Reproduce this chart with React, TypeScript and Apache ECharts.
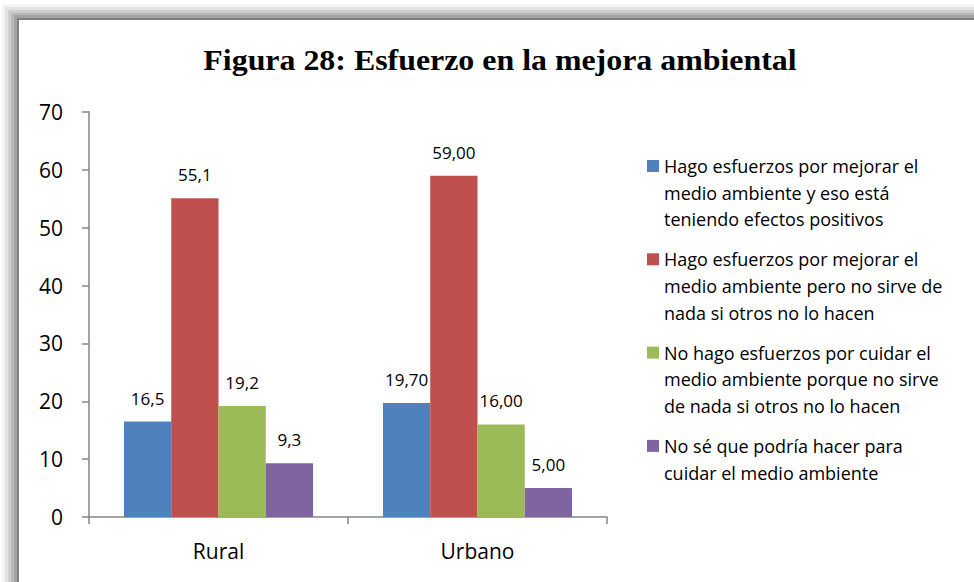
import React, { useEffect, useRef } from "react";
import * as echarts from "echarts";

const titleText = "Figura 28: Esfuerzo en la mejora ambiental";
const categories = ["Rural", "Urbano"];
const labelDecimals = [1, 2];
const seriesNames = [
  "Hago esfuerzos por mejorar el\nmedio ambiente y eso está\nteniendo efectos positivos",
  "Hago esfuerzos por mejorar el\nmedio ambiente pero no sirve de\nnada si otros no lo hacen",
  "No hago esfuerzos por cuidar el\nmedio ambiente porque no sirve\nde nada si otros no lo hacen",
  "No sé que podría hacer para\ncuidar el medio ambiente",
];
const seriesColors = ["#4F81BD", "#C0504D", "#9BBB59", "#8064A2"];
const valuesPositive = [16.5, 19.7];
const valuesNoSirve = [55.1, 59.0];
const valuesNoHago = [19.2, 16.0];
const valuesNoSe = [9.3, 5.0];
const seriesValues = [valuesPositive, valuesNoSirve, valuesNoHago, valuesNoSe];
const yMin = 0;
const yMax = 70;
const yInterval = 10;

const FONT = "'Open Sans', 'Noto Sans', sans-serif";

export default function App() {
  const ref = useRef<HTMLDivElement>(null);
  useEffect(() => {
    if (!ref.current) return;
    const chart = echarts.init(ref.current, undefined, { renderer: "svg" });

    const frame: any[] = [
      { x: 2, y: 4, fill: "#f3f3f3" },
      { x: 5, y: 7, fill: "#e2e2e2" },
      { x: 8, y: 10, fill: "#cfcfcf" },
      { x: 11, y: 13, fill: "#b9b9b9" },
      { x: 14, y: 15, fill: "#a3a3a3" },
      { x: 17, y: 18, fill: "#7f7f7f" },
      { x: 19, y: 20, fill: "#ffffff" },
    ].map((f) => ({
      type: "rect",
      silent: true,
      z: -10,
      shape: { x: f.x, y: f.y, width: 1200, height: 800 },
      style: { fill: f.fill },
    }));

    const legendItems: any[] = [];
    seriesNames.forEach((name, i) => {
      const cy = 166 + i * 93.3;
      legendItems.push({
        type: "rect",
        shape: { x: 647, y: cy - 6, width: 12, height: 12 },
        style: { fill: seriesColors[i] },
      });
      legendItems.push({
        type: "text",
        x: 664,
        y: cy - 13.3,
        style: {
          text: name,
          font: `18px ${FONT}`,
          fill: "#000000",
          lineHeight: 26.7,
          verticalAlign: "top",
          align: "left",
        },
      });
    });

    const titleItem = {
      type: "text",
      x: 500,
      y: 60,
      scaleX: 1.1,
      style: {
        text: titleText,
        font: "bold 29px 'Liberation Serif', 'Times New Roman', serif",
        fill: "#000000",
        align: "center",
        verticalAlign: "middle",
      },
    };

    chart.setOption({
      animation: false,
      backgroundColor: "#ffffff",
      graphic: [...frame, titleItem, ...legendItems],
      grid: { left: 89, right: 367, top: 112, bottom: 65, containLabel: false },
      xAxis: {
        type: "category",
        data: categories,
        axisLine: { show: true, lineStyle: { color: "#868686", width: 1.5 } },
        axisTick: { show: true, length: 7, lineStyle: { color: "#868686", width: 1.5 } },
        axisLabel: { fontFamily: FONT, fontSize: 21, color: "#000000", margin: 23 },
        splitLine: { show: false },
      },
      yAxis: {
        type: "value",
        min: yMin,
        max: yMax,
        interval: yInterval,
        axisLine: { show: true, lineStyle: { color: "#868686", width: 1.5 } },
        axisTick: { show: true, length: 7, lineStyle: { color: "#868686", width: 1.5 } },
        axisLabel: { fontFamily: FONT, fontSize: 21, color: "#000000", margin: 26 },
        splitLine: { show: false },
      },
      series: seriesValues.map((vals, i) => ({
        type: "bar",
        name: seriesNames[i].replace(/\n/g, " "),
        data: vals,
        barGap: "0%",
        barCategoryGap: "27%",
        itemStyle: { color: seriesColors[i] },
        label: {
          show: true,
          position: "top",
          distance: 15,
          fontFamily: FONT,
          fontSize: 17,
          color: "#000000",
          formatter: (p: any) =>
            Number(p.value).toFixed(labelDecimals[p.dataIndex]).replace(".", ","),
        },
      })),
    });

    return () => chart.dispose();
  }, []);
  return (
    <div
      ref={ref}
      style={{ position: "fixed", left: 0, top: 0, width: 974, height: 582 }}
    />
  );
}
